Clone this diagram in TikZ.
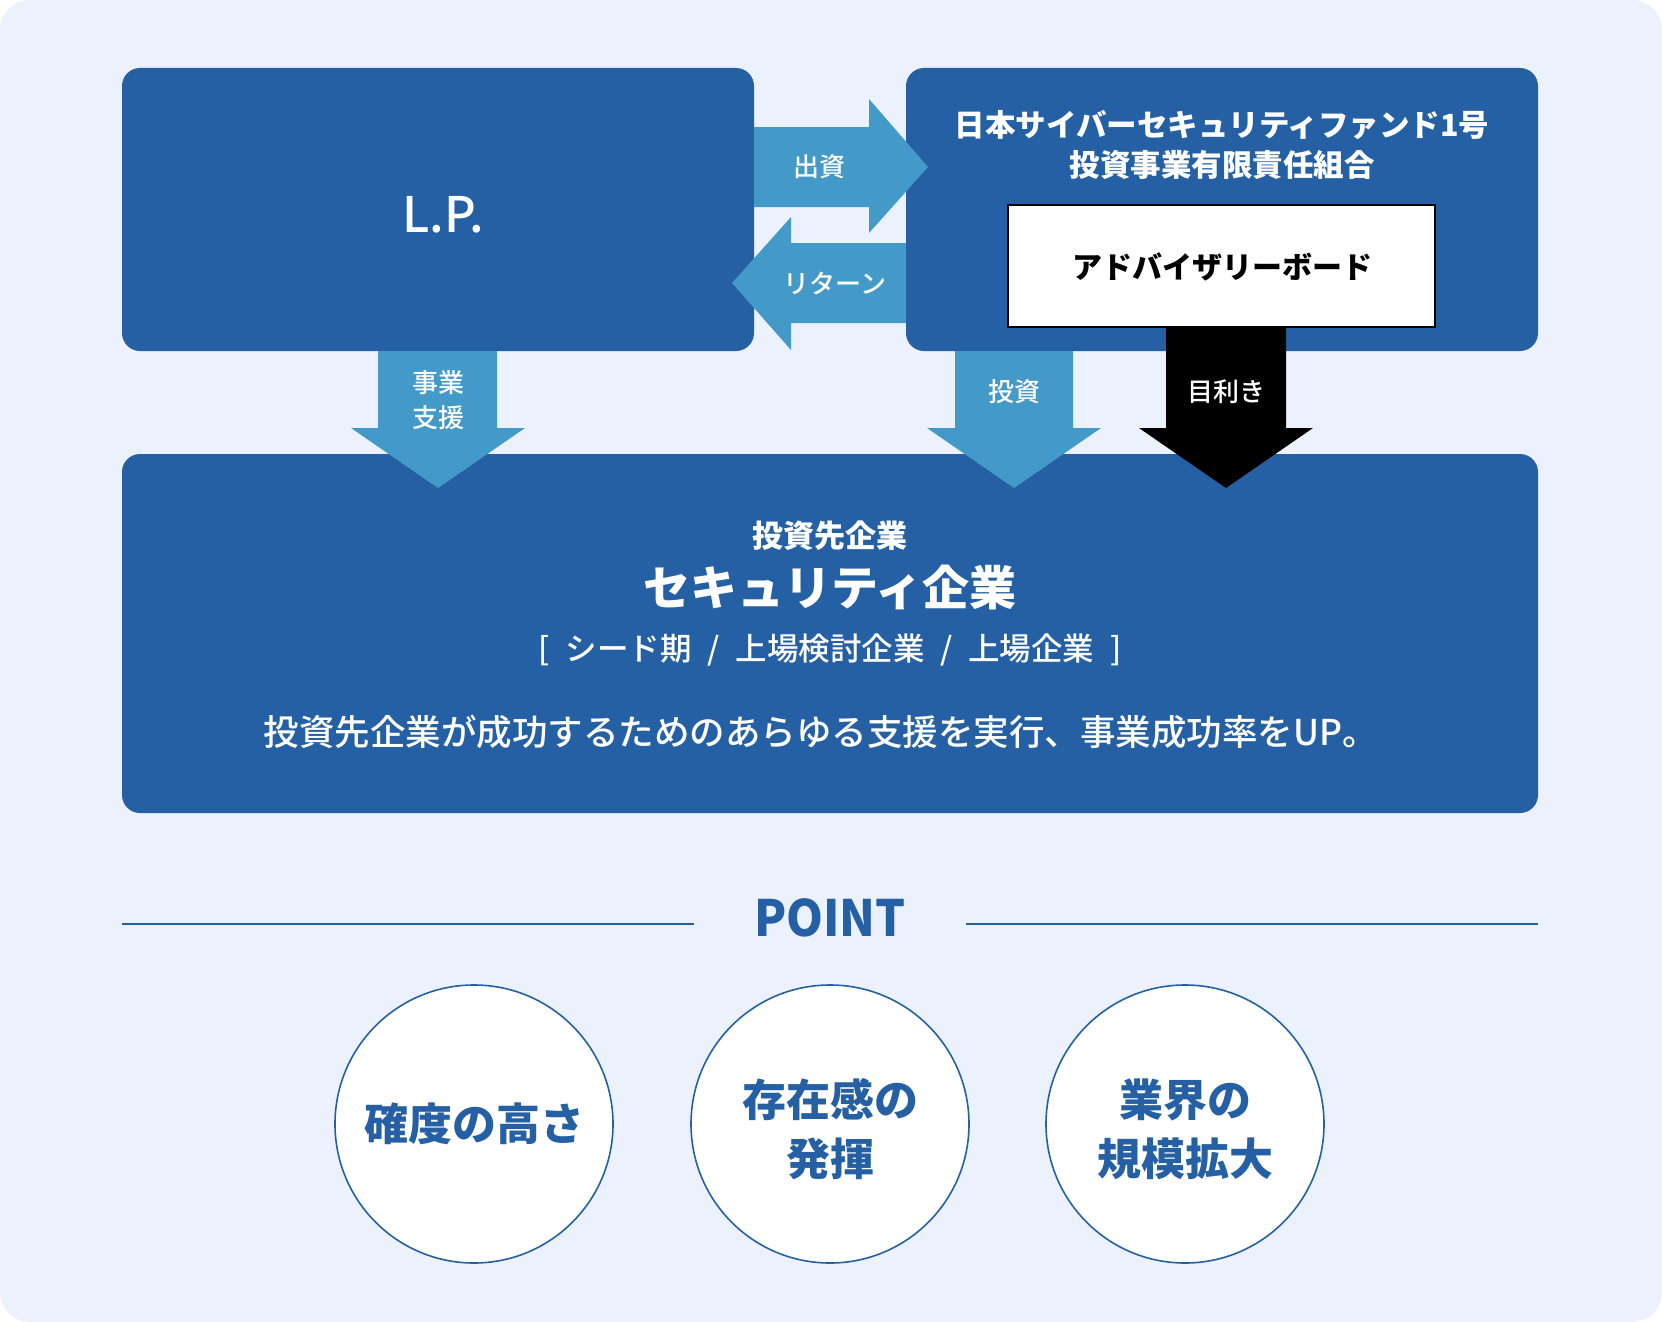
\documentclass[tikz,border=0pt]{standalone}
\usepackage{fontspec}
\setmainfont{Noto Sans CJK JP}
\newfontfamily\medfont{Noto Sans CJK JP Medium}
\usetikzlibrary{calc}
\definecolor{mainblue}{HTML}{2560A4}
\definecolor{lightarrow}{HTML}{439AC8}
\definecolor{bgblue}{HTML}{EBF2FD}
\newcommand{\fs}[2]{\fontsize{#1}{#2}\selectfont}
\begin{document}
\begin{tikzpicture}[x=1pt,y=-1pt,
  bluebox/.style={fill=mainblue,draw=none,rounded corners=18pt,inner sep=0pt},
  whitebox/.style={fill=white,draw=black,line width=1.5pt,inner sep=0pt},
  lightarr/.style={fill=lightarrow,draw=none},
  darkarr/.style={fill=black,draw=none},
  wtext/.style={text=white,inner sep=0pt,align=center},
  pointcircle/.style={circle,fill=white,draw=mainblue,line width=1.6pt,minimum size=278pt,inner sep=0pt},
  ctext/.style={text=mainblue,inner sep=0pt,align=center,font=\fs{44}{59}\bfseries},
  divider/.style={draw=mainblue,line width=1.6pt}]
\useasboundingbox (0,0) rectangle (1662,1322);
\fill[white] (0,0) rectangle (1662,1322);
\fill[bgblue,rounded corners=30pt] (0,0) rectangle (1662,1322);

% boxes
\node[bluebox,minimum width=632pt,minimum height=283pt] (lp) at (438,209.5) {};
\node[bluebox,minimum width=632pt,minimum height=283pt] (fund) at (1222,209.5) {};
\node[bluebox,minimum width=1416pt,minimum height=359pt] (corp) at (830,633.5) {};
\node[whitebox,minimum width=427pt,minimum height=122pt] (board) at (1221.5,266) {};

% horizontal arrows
\fill[lightarr] (754,127) -- (869,127) -- (869,99) -- (928,167) -- (869,233) -- (869,207) -- (754,207) -- cycle;
\fill[lightarr] (906,243) -- (791,243) -- (791,217) -- (732,283) -- (791,350) -- (791,323) -- (906,323) -- cycle;
% vertical arrows
\fill[lightarr] (378,351) -- (497,351) -- (497,428) -- (525,428) -- (438,488) -- (351,428) -- (378,428) -- cycle;
\fill[lightarr] (955,351) -- (1073,351) -- (1073,428) -- (1101,428) -- (1014,488) -- (927,428) -- (955,428) -- cycle;
\fill[darkarr] (1166,328) -- (1286,328) -- (1286,428) -- (1313,428) -- (1226,488) -- (1139,428) -- (1166,428) -- cycle;

% texts
\node[wtext,font=\fs{49}{52}\medfont] (lptext) at (443,215) {L.P.};
\node[wtext,font=\fs{30.5}{40}\bfseries] (fundtext) at (1222,145) {日本サイバーセキュリティファンド1号\\投資事業有限責任組合};
\node[inner sep=0pt,font=\fs{30}{36}\bfseries] (boardtext) at (1222,267) {アドバイザリーボード};
\node[wtext,font=\fs{26}{34}\medfont] (l1) at (819,167) {出資};
\node[wtext,font=\fs{26}{34}\medfont] (l2) at (835,283) {リターン};
\node[wtext,font=\fs{26}{35}\medfont] (l3) at (438,400) {事業\\支援};
\node[wtext,font=\fs{26}{34}\medfont] (l4) at (1014,392) {投資};
\node[wtext,font=\fs{26}{34}\medfont] (l5) at (1226,392) {目利き};

\node[wtext,font=\fs{31}{36}\bfseries] (c1) at (830,536) {投資先企業};
\node[wtext,font=\fs{47}{52}\bfseries] (c2) at (830,587) {セキュリティ企業};
\node[wtext,font=\fs{31.5}{36}\medfont] (c3) at (830,650) {[\hspace{0.5em}シード期\hspace{0.5em}/\hspace{0.5em}上場検討企業\hspace{0.5em}/\hspace{0.5em}上場企業\hspace{0.5em}]};
\node[wtext,font=\fs{35.5}{40}\medfont] (c4) at (821,732) {投資先企業が成功するためのあらゆる支援を実行、事業成功率をUP。};

% POINT
\node[text=mainblue,inner sep=0pt,font=\fs{50}{56}\bfseries] (point) at (830,918) {\scalebox{0.94}[1]{POINT}};
\coordinate (ll) at (122,924);
\coordinate (lr) at (694,924);
\coordinate (rl) at (966,924);
\coordinate (rr) at (1538,924);
\draw[divider] (ll) -- (lr);
\draw[divider] (rl) -- (rr);

\node[pointcircle] (p1) at (474,1124) {};
\node[pointcircle] (p2) at (830,1124) {};
\node[pointcircle] (p3) at (1185,1124) {};
\node[ctext] at (p1) {確度の高さ};
\node[ctext] at ($(p2)+(0,5)$) {存在感の\\発揮};
\node[ctext] at ($(p3)+(0,5)$) {業界の\\規模拡大};
\end{tikzpicture}
\end{document}
